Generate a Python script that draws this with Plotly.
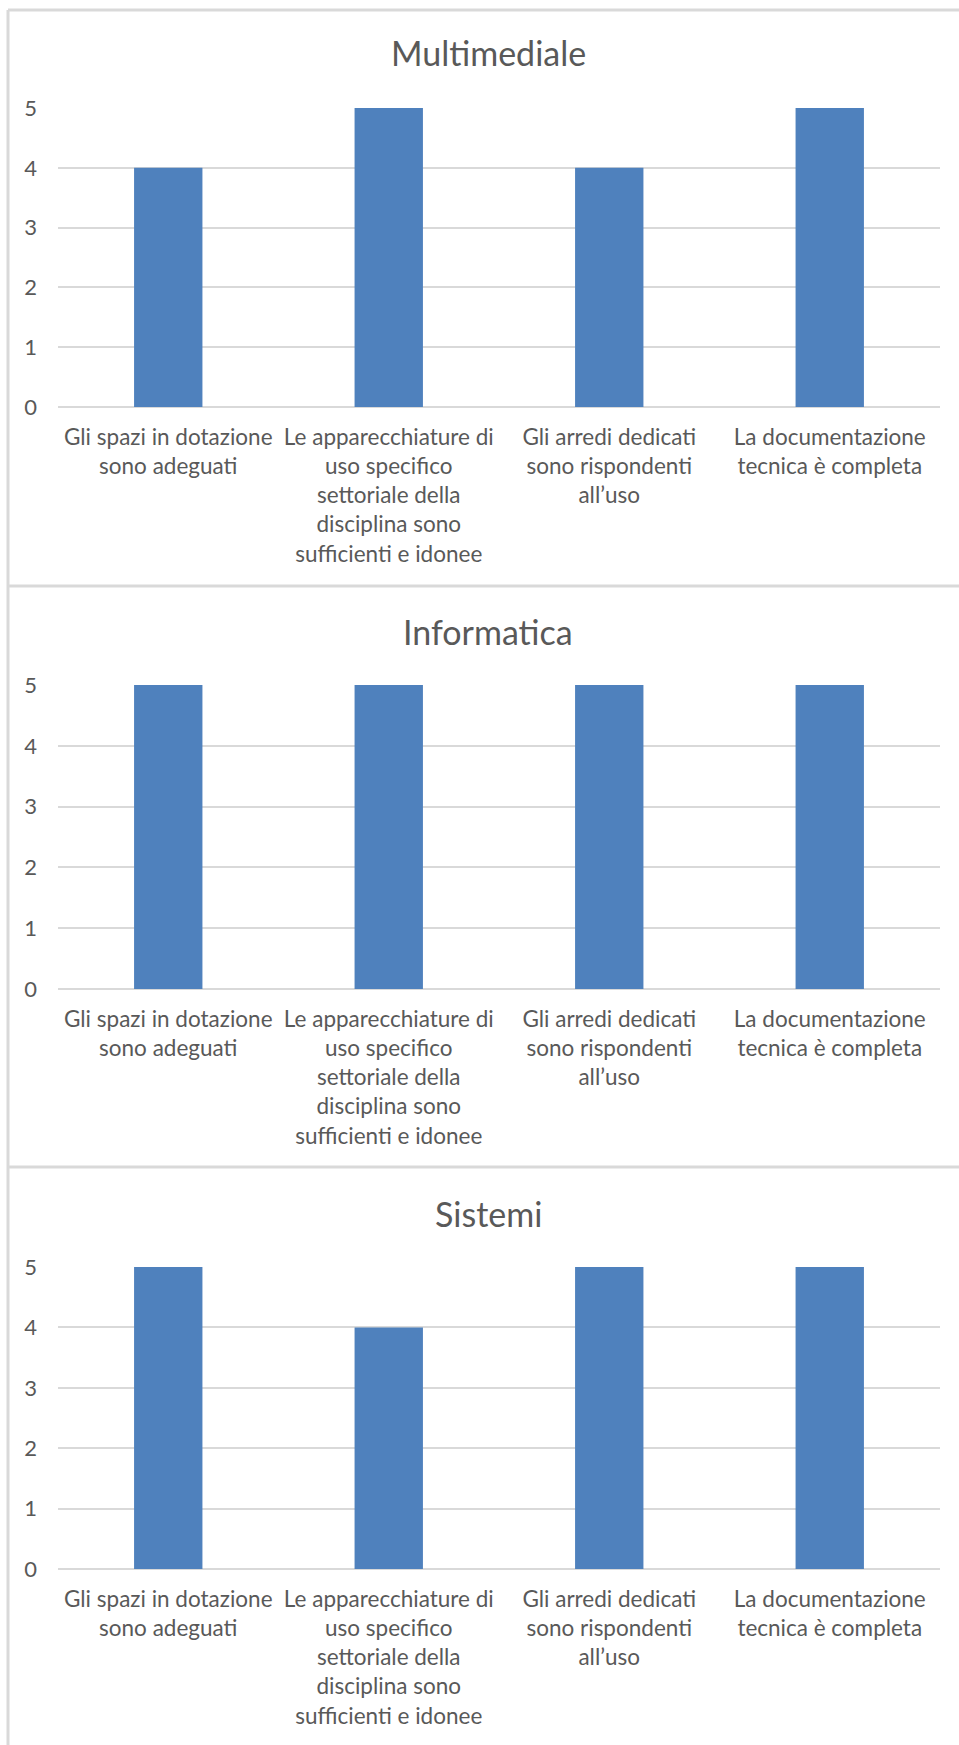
import plotly.graph_objects as go

# ---- data ----
categories = [
    "Gli spazi in dotazione<br>sono adeguati",
    "Le apparecchiature di<br>uso specifico<br>settoriale della<br>disciplina sono<br>sufficienti e idonee",
    "Gli arredi dedicati<br>sono rispondenti<br>all\u2019uso",
    "La documentazione<br>tecnica è completa",
]
titles = ["Multimediale", "Informatica", "Sistemi"]
values_multimediale = [4, 5, 4, 5]
values_informatica = [5, 5, 5, 5]
values_sistemi = [5, 4, 5, 5]
y_ticks = [0, 1, 2, 3, 4, 5]

series = [values_multimediale, values_informatica, values_sistemi]

# ---- layout (pixels) ----
W, H = 959, 1745
panels = [  # (y of value 5, y of value 0, title centre)
    (108, 407, 52),
    (685, 989, 631),
    (1267, 1569, 1213),
]
x_left, x_right = 58, 940
FONT = "Lato, Carlito, Calibri, sans-serif"
GREY = "#595959"
GRID = "#D9D9D9"
BAR = "#4F81BD"

fig = go.Figure()
layout = dict(
    template="none",
    width=W, height=H,
    margin=dict(l=0, r=0, t=0, b=0, pad=0),
    paper_bgcolor="white", plot_bgcolor="white",
    showlegend=False,
    bargap=0.69,
    font=dict(family=FONT, color=GREY),
)
annotations = []
shapes = []

for i, (vals, title, (y5, y0, tc)) in enumerate(zip(series, titles, panels)):
    n = "" if i == 0 else str(i + 1)
    fig.add_trace(go.Bar(x=categories, y=vals, marker=dict(color=BAR, line=dict(width=0)),
                         xaxis="x" + n, yaxis="y" + n, hoverinfo="x+y"))
    layout["xaxis" + n] = dict(
        domain=[x_left / W, x_right / W], anchor="y" + n,
        showgrid=False, showline=False, ticks="", zeroline=False,
        tickfont=dict(family=FONT, size=22.5, color=GREY),
        ticklabelstandoff=14, tickangle=0, fixedrange=True, automargin=False,
    )
    layout["yaxis" + n] = dict(
        domain=[1 - y0 / H, 1 - y5 / H], anchor="x" + n,
        range=[0, 5], tickvals=y_ticks,
        showgrid=True, gridcolor=GRID, gridwidth=1.5,
        zeroline=True, zerolinecolor=GRID, zerolinewidth=1.5,
        showline=False, ticks="",
        tickfont=dict(family=FONT, size=22, color=GREY),
        ticklabelstandoff=20, fixedrange=True, automargin=False,
    )
    annotations.append(dict(
        text=title, x=488 / W, y=1 - tc / H, xref="paper", yref="paper",
        xanchor="center", yanchor="middle", showarrow=False,
        font=dict(family=FONT, size=34, color=GREY),
    ))

# chart-box borders
bc = dict(color="#D9D9D9", width=3)
shapes.append(dict(type="line", xref="paper", yref="paper", x0=8 / W, x1=1, y0=1 - 10 / H, y1=1 - 10 / H, line=bc))
shapes.append(dict(type="line", xref="paper", yref="paper", x0=8 / W, x1=8 / W, y0=0, y1=1 - 10 / H, line=bc))
for ys in (586, 1167):
    shapes.append(dict(type="line", xref="paper", yref="paper", x0=8 / W, x1=1, y0=1 - ys / H, y1=1 - ys / H, line=bc))

layout["annotations"] = annotations
layout["shapes"] = shapes
fig.update_layout(**layout)
fig.write_html(
    "out.html",
    config={"displayModeBar": False},
    post_script="document.body.style.margin='0';document.body.style.overflow='hidden';",
)
